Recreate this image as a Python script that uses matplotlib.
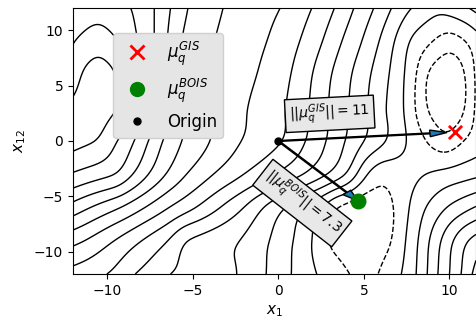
import numpy as np
import matplotlib
matplotlib.use("Agg")
import matplotlib.pyplot as plt
from matplotlib.lines import Line2D

# ---- data --------------------------------------------------------------
# Surface values along horizontal rows: x positions where each contour level
# crosses the row (plus edge / extremum values).
row_y = [-12, -9, -6, -3, 0, 3, 6, 9, 12]

row_m12_x = [-12, -9.9, -8.4, -6.4, -2.3, -0.7, 0.76, 2.2, 4.15, 5.0, 5.9, 7.25, 8.1, 8.7, 9.3, 10.0, 10.7, 11.3, 11.6]
row_m12_v = [6.6, 6, 5, 4, 3, 2, 1, 0, -1, -1.4, -1, 0, 1, 2, 3, 4, 5, 6, 6.4]

row_m9_x = [-12, -11.3, -9.6, -8.0, -6.4, -5.5, -2.2, -0.5, 0.9, 2.0, 2.8, 4.8, 6.8, 7.4, 8.2, 8.8, 9.5, 10.2, 11.0, 11.6]
row_m9_v = [8.3, 8, 7, 6, 5, 4, 3, 2, 1, 0, -1, -1.75, -1, 0, 1, 2, 3, 4, 5, 5.4]

row_m6_x = [-12, -11.0, -9.2, -7.8, -6.4, -4.8, -3.4, -2.0, -0.9, 0.4, 1.6, 2.6, 3.3, 5.0, 6.9, 7.6, 8.6, 9.8, 11.4, 11.6]
row_m6_v = [10.6, 10, 9, 8, 7, 6, 5, 4, 3, 2, 1, 0, -1, -1.75, -1, 0, 1, 2, 3, 3.1]

row_m3_x = [-12, -9.4, -8.5, -7.6, -6.6, -5.4, -3.8, -2.0, -0.2, 1.5, 2.9, 4.0, 4.6, 5.1, 6.0, 8.6, 11.6]
row_m3_v = [12.9, 12, 11, 10, 9, 8, 7, 6, 5, 4, 3, 2, 1, 0, -0.8, 0, 0.8]

row_0_x = [-12, -10.5, -9.4, -8.4, -7.6, -6.8, -5.7, -4.0, -2.2, 0.3, 1.6, 2.8, 3.9, 5.0, 6.3, 7.5, 8.6, 9.8, 10.8, 11.6]
row_0_v = [14.3, 14, 13, 12, 11, 10, 9, 8, 7, 6, 5, 4, 3, 2, 1, 0, -1, -1.8, -1, -0.5]

row_3_x = [-12, -10.8, -9.2, -8.6, -7.7, -7.0, -6.3, -5.6, -4.0, -1.8, 0.5, 1.8, 2.9, 4.1, 5.2, 6.3, 7.4, 8.0, 8.6, 10.0, 11.0, 11.4, 11.6]
row_3_v = [14.2, 14.5, 14, 13, 12, 11, 10, 9, 8, 7, 6, 5, 4, 3, 2, 1, 0, -1, -2, -3.0, -2, -1, -0.8]

row_6_x = [-12, -11.6, -10.6, -9.4, -8.6, -7.9, -7.2, -6.6, -6.0, -4.2, -1.2, 0.8, 2.0, 3.1, 4.3, 5.4, 6.5, 7.4, 8.1, 8.6, 10.0, 11.0, 11.4, 11.6]
row_6_v = [13.5, 14, 14.6, 14, 13, 12, 11, 10, 9, 8, 7, 6, 5, 4, 3, 2, 1, 0, -1, -2, -3.0, -2, -1, -0.8]

row_9_x = [-12, -10.5, -9.3, -8.2, -7.2, -6.5, -5.8, -3.8, -0.6, 1.3, 2.6, 3.7, 4.9, 5.9, 6.8, 7.6, 9.0, 10.0, 11.0, 11.6]
row_9_v = [12.95, 13.6, 13, 12, 11, 10, 9, 8, 7, 6, 5, 4, 3, 2, 1, 0, -1, -1.6, -1, -0.4]

row_12_x = [-12, -10.5, -8.5, -7.2, -6.3, -5.4, -3.3, 0.2, 2.0, 3.3, 4.4, 5.6, 6.6, 7.7, 9.4, 11.2, 11.6]
row_12_v = [12.4, 12.6, 12, 11, 10, 9, 8, 7, 6, 5, 4, 3, 2, 1, 0.2, 1, 1.3]

contour_levels = [-2, -1, 0, 1, 2, 3, 4, 5, 6, 7, 8, 9, 10, 11, 12, 13, 14]

mu_gis = [10.3, 0.8]
mu_bois = [4.65, -5.4]
origin = [0.0, 0.0]
norm_gis_label = "11"
norm_bois_label = "7.3"
x_range = [-12.0, 11.55]
y_range = [-12.0, 12.0]

# ---- build the surface from the rows -----------------------------------
rows_x = [row_m12_x, row_m9_x, row_m6_x, row_m3_x, row_0_x, row_3_x, row_6_x, row_9_x, row_12_x]
rows_v = [row_m12_v, row_m9_v, row_m6_v, row_m3_v, row_0_v, row_3_v, row_6_v, row_9_v, row_12_v]

xg = np.linspace(x_range[0], x_range[1], 400)
yg = np.linspace(y_range[0], y_range[1], 400)
R = np.array([np.interp(xg, rx, rv) for rx, rv in zip(rows_x, rows_v)])
ry = np.array(row_y, dtype=float)
# pad for Catmull-Rom
Rp = np.vstack([2 * R[0] - R[1], R, 2 * R[-1] - R[-2]])
Z = np.empty((len(yg), len(xg)))
for j, yv in enumerate(yg):
    i = min(int(np.searchsorted(ry, yv, side="right") - 1), len(ry) - 2)
    i = max(i, 0)
    t = (yv - ry[i]) / (ry[i + 1] - ry[i])
    p0, p1, p2, p3 = Rp[i], Rp[i + 1], Rp[i + 2], Rp[i + 3]
    Z[j] = 0.5 * (2 * p1 + (-p0 + p2) * t + (2 * p0 - 5 * p1 + 4 * p2 - p3) * t ** 2
                  + (-p0 + 3 * p1 - 3 * p2 + p3) * t ** 3)

# light smoothing (separable gaussian blur)
def blur(A, sig_pts, axis):
    n = int(3 * sig_pts)
    k = np.exp(-0.5 * (np.arange(-n, n + 1) / sig_pts) ** 2)
    k /= k.sum()
    pad = [(0, 0), (0, 0)]
    pad[axis] = (n, n)
    Ap = np.pad(A, pad, mode="reflect", reflect_type="odd")
    return np.apply_along_axis(lambda v: np.convolve(v, k, mode="valid"), axis, Ap)

Z = blur(Z, 6, 1)
Z = blur(Z, 6, 0)
X, Y = np.meshgrid(xg, yg)

fig = plt.figure(figsize=(4.77, 3.22), dpi=100)
ax = fig.add_axes([73 / 477, 48 / 322, 403 / 477, 266 / 322])
ax.contour(X, Y, Z, levels=contour_levels, colors="k", linewidths=1.0)

ax.scatter([mu_gis[0]], [mu_gis[1]], marker="x", color="red", s=90, linewidths=2, zorder=5)
ax.scatter([mu_bois[0]], [mu_bois[1]], marker="o", color="green", s=110, zorder=5)
ax.scatter([origin[0]], [origin[1]], marker="o", color="black", s=25, zorder=5)

for mu in (mu_gis, mu_bois):
    ax.arrow(origin[0], origin[1], 0.86 * (mu[0] - origin[0]), 0.86 * (mu[1] - origin[1]),
             width=0.08, head_width=0.6, head_length=1.0, fc="C0", ec="black",
             length_includes_head=False, zorder=4)

box = dict(boxstyle="square,pad=0.3", fc="#e8e8e8", ec="black")
ax.text(3.0, 2.45, r"$||\mu_q^{GIS}|| = $" + norm_gis_label, rotation=3,
        ha="center", va="center", fontsize=10, bbox=box, zorder=6)
ax.text(1.4, -5.6, r"$||\mu_q^{BOIS}|| = $" + norm_bois_label, rotation=-38,
        ha="center", va="center", fontsize=10, bbox=box, zorder=6,
        rotation_mode="anchor")

handles = [
    Line2D([], [], marker="x", color="red", ls="", markersize=10, mew=2),
    Line2D([], [], marker="o", color="green", ls="", markersize=10),
    Line2D([], [], marker="o", color="black", ls="", markersize=5),
]
ax.legend(handles, [r"$\mu_q^{GIS}$", r"$\mu_q^{BOIS}$", "Origin"],
          loc="upper left", bbox_to_anchor=(0.1, 0.905), borderaxespad=0,
          fontsize=12, facecolor="#e5e5e5", framealpha=1.0, edgecolor="#d0d0d0")

ax.set_xlim(x_range)
ax.set_ylim(y_range)
ax.set_xticks([-10, -5, 0, 5, 10])
ax.set_yticks([-10, -5, 0, 5, 10])
ax.set_xlabel(r"$x_1$", fontsize=11)
ax.set_ylabel(r"$x_{12}$", fontsize=11)
ax.tick_params(labelsize=10)

fig.savefig("out.png", dpi=100)
